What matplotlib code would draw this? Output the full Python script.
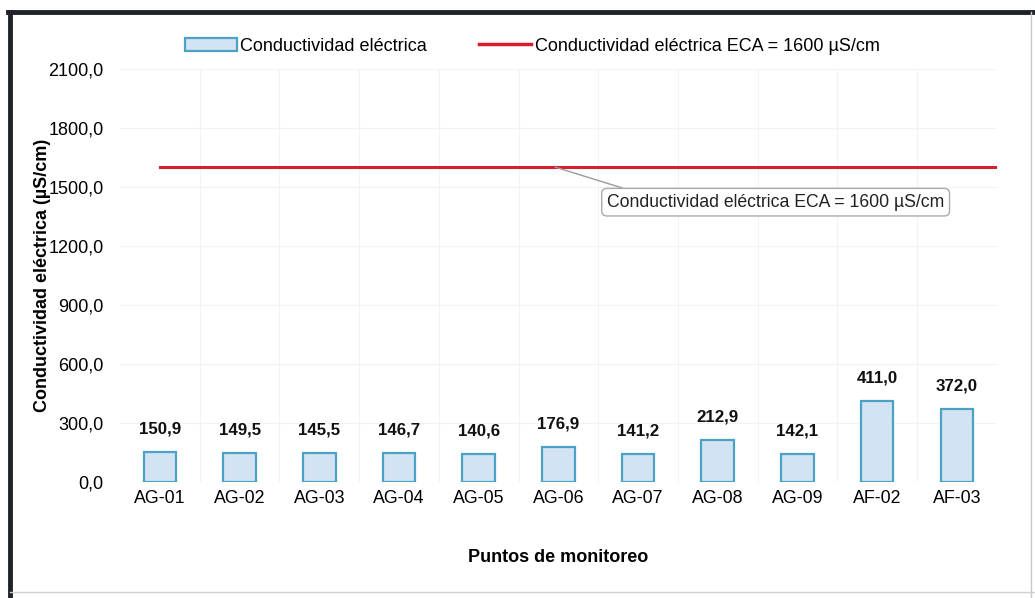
import matplotlib
matplotlib.use("Agg")
import matplotlib.pyplot as plt
from matplotlib.lines import Line2D
from matplotlib.patches import Patch
from matplotlib.ticker import FuncFormatter, FixedLocator

categories = ["AG-01", "AG-02", "AG-03", "AG-04", "AG-05", "AG-06",
              "AG-07", "AG-08", "AG-09", "AF-02", "AF-03"]
values = [150.9, 149.5, 145.5, 146.7, 140.6, 176.9, 141.2, 212.9, 142.1, 411.0, 372.0]
eca_limit = 1600
y_ticks = [0, 300, 600, 900, 1200, 1500, 1800, 2100]

plt.rcParams['font.family'] = ['Liberation Sans', 'DejaVu Sans']

fig = plt.figure(figsize=(10.35, 5.98), dpi=100)
ax = fig.add_axes([0.116, 0.194, 0.847, 0.691])

x = list(range(len(categories)))
ax.bar(x, values, width=0.41, color='#d3e3f3', edgecolor='#4aa3c4', linewidth=1.6, zorder=3)
for xi, v in zip(x, values):
    ax.annotate(f"{v:.1f}".replace('.', ','), xy=(xi, v), xytext=(0, 16.5),
                textcoords='offset points', ha='center', va='center',
                fontsize=12.2, fontweight='bold', color='#111111', zorder=4)

ax.plot([0, len(categories) - 0.5], [eca_limit, eca_limit], color='#d71f2f', linewidth=2.2, zorder=4)

ax.set_xlim(-0.5, len(categories) - 0.5)
ax.set_ylim(0, 2100)
ax.set_yticks(y_ticks)
ax.yaxis.set_major_formatter(FuncFormatter(lambda v, p: f"{v:.1f}".replace('.', ',')))
ax.set_xticks(x)
ax.set_xticklabels(categories, fontsize=12.8)
ax.xaxis.set_minor_locator(FixedLocator([i + 0.5 for i in x[:-1]]))
ax.tick_params(axis='y', labelsize=13, length=0, pad=12)
ax.tick_params(axis='x', which='both', length=0, pad=6)
for s in ax.spines.values():
    s.set_visible(False)
ax.grid(True, axis='y', color='#f3f3f3', linewidth=0.8, zorder=0)
ax.grid(True, axis='x', which='minor', color='#f3f3f3', linewidth=0.8, zorder=0)

ax.set_ylabel("Conductividad eléctrica (µS/cm)", fontsize=13, fontweight='bold', labelpad=-2)
ax.set_xlabel("Puntos de monitoreo", fontsize=13, fontweight='bold', labelpad=30)

# annotation of the limit
ax.annotate("Conductividad eléctrica ECA = 1600 µS/cm", xy=(4.96, eca_limit), xytext=(5.61, 1422),
            fontsize=12.7, ha='left', va='center', color='#222222',
            bbox=dict(boxstyle='round,pad=0.3', fc='white', ec='#aaaaaa', lw=1),
            arrowprops=dict(arrowstyle='-', color='#9a9a9a', lw=1, shrinkA=0, shrinkB=0,
                            relpos=(0.1, 1.0)), zorder=5)

handles = [Patch(facecolor='#d3e3f3', edgecolor='#4aa3c4', linewidth=1.6),
           Line2D([0], [0], color='#d71f2f', linewidth=2.5)]
fig.legend(handles, ["Conductividad eléctrica", "Conductividad eléctrica ECA = 1600 µS/cm"],
           loc='center', bbox_to_anchor=(0.514, 0.923), ncol=2, frameon=False, fontsize=13,
           handlelength=2.9, handletextpad=0.17, columnspacing=2.9)

# outer frame
fig.add_artist(Line2D([0.0095, 0.0095], [0.0, 0.98], transform=fig.transFigure, color='#1f2226', lw=3.5))
fig.add_artist(Line2D([0.0075, 1.0], [0.98, 0.98], transform=fig.transFigure, color='#1f2226', lw=3.5))
fig.add_artist(Line2D([0.996, 0.996], [0.0, 0.98], transform=fig.transFigure, color='#c8c8c8', lw=1))
fig.add_artist(Line2D([0.0095, 1.0], [0.01, 0.01], transform=fig.transFigure, color='#d0d0d0', lw=1))

fig.savefig("out.png", dpi=100)
